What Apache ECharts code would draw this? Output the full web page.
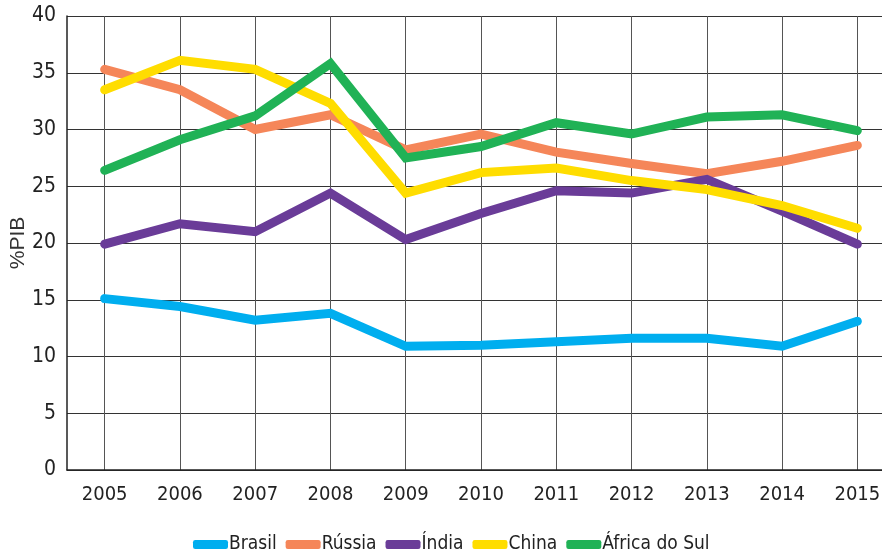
<!DOCTYPE html>
<html>
<head>
<meta charset="utf-8">
<script src="https://cdn.jsdelivr.net/npm/echarts@6/dist/echarts.min.js"></script>
<style>
html,body{margin:0;padding:0;background:#fff;}
#chart{width:882px;height:557px;}
</style>
</head>
<body>
<div id="chart"></div>
<script>
const years = ['2005','2006','2007','2008','2009','2010','2011','2012','2013','2014','2015'];
const brasil = [15.1, 14.4, 13.2, 13.8, 10.9, 11.0, 11.3, 11.6, 11.6, 10.9, 13.1];
const russia = [35.3, 33.5, 30.0, 31.3, 28.2, 29.6, 28.0, 27.0, 26.1, 27.2, 28.6];
const india = [19.9, 21.7, 21.0, 24.4, 20.3, 22.6, 24.6, 24.4, 25.6, 22.8, 19.9];
const china = [33.5, 36.1, 35.3, 32.3, 24.4, 26.2, 26.6, 25.5, 24.7, 23.3, 21.3];
const africa = [26.4, 29.1, 31.2, 35.8, 27.5, 28.5, 30.6, 29.6, 31.1, 31.3, 29.9];
const seriesNames = ['Brasil', 'Rússia', 'Índia', 'China', 'África do Sul'];
const seriesData = [brasil, russia, india, china, africa];
const colors = ['#00AEEF', '#F58659', '#6A3C98', '#FFDD00', '#20B256'];

const narrow = '"Liberation Sans Narrow", "DejaVu Sans Condensed", sans-serif';
const chart = echarts.init(document.getElementById('chart'));
chart.setOption({
  backgroundColor: '#fff',
  animation: false,
  grid: {left: 67, top: 16, width: 828, height: 454, containLabel: false, outerBoundsMode: 'none'},
  legend: {
    data: seriesNames,
    left: 188, top: 530,
    icon: 'roundRect',
    itemWidth: 35, itemHeight: 9,
    itemGap: 9,
    textStyle: {fontFamily: narrow, fontSize: 19, color: '#222', padding: [0, 0, 0, -4]}
  },
  xAxis: {
    type: 'category',
    data: years,
    boundaryGap: true,
    axisLine: {show: true, lineStyle: {color: '#222', width: 1.5}},
    axisTick: {show: false},
    axisLabel: {fontFamily: narrow, fontSize: 20, color: '#222', margin: 15},
    splitLine: {show: true, alignWithLabel: true, lineStyle: {color: '#555', width: 1}}
  },
  yAxis: {
    type: 'value',
    min: 0, max: 40, interval: 5,
    name: '%PIB',
    nameLocation: 'middle',
    nameGap: 38,
    nameMoveOverlap: false,
    nameTextStyle: {fontFamily: '"Liberation Sans", sans-serif', fontSize: 21, color: '#333'},
    axisLine: {show: true, lineStyle: {color: '#222', width: 1.5}},
    axisTick: {show: false},
    axisLabel: {fontFamily: narrow, fontSize: 21, color: '#222', margin: 11},
    splitLine: {show: true, lineStyle: {color: '#333', width: 1}}
  },
  series: seriesData.map((d, i) => ({
    name: seriesNames[i],
    type: 'line',
    data: d,
    symbol: 'none',
    color: colors[i],
    lineStyle: {width: 9, color: colors[i], cap: 'round', join: 'miter'}
  }))
});
</script>
</body>
</html>
